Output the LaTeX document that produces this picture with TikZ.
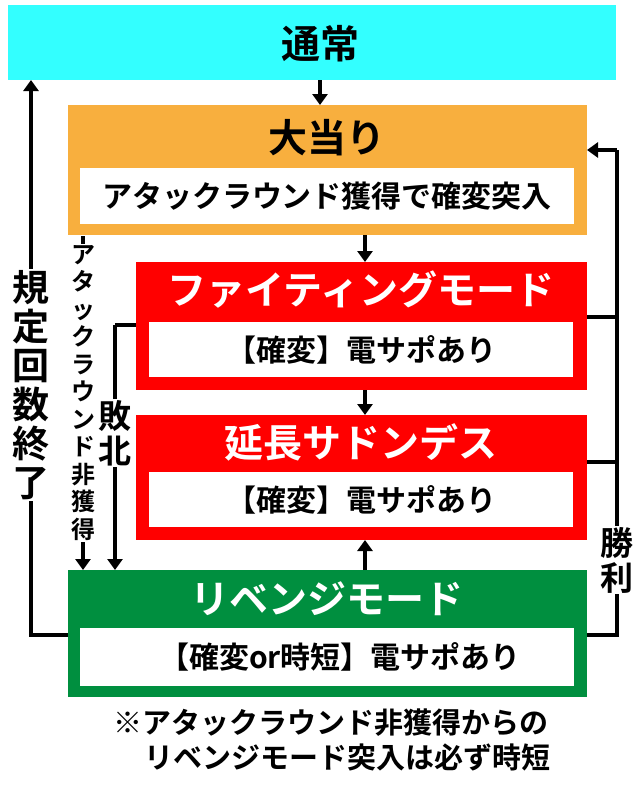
\documentclass[tikz,border=0pt]{standalone}
\usepackage{fontspec}
\setmainfont{Noto Sans CJK JP}[BoldFont={* Bold}]
\usetikzlibrary{arrows.meta}
\definecolor{cyanbg}{HTML}{33FFFF}
\definecolor{orangebg}{HTML}{F8AF3E}
\definecolor{redbg}{HTML}{FF0000}
\definecolor{greenbg}{HTML}{008F3F}
\begin{document}
\begin{tikzpicture}[x=1pt,y=-1pt,
  ttl/.style={font=\bfseries\fontsize{39}{42}\selectfont},
  txt/.style={font=\bfseries\fontsize{30}{34}\selectfont},
  conn/.style={line width=4pt,-{Triangle[length=11pt,width=15pt]}},
  line/.style={line width=4pt},
  vlab/.style={fill=white,inner sep=1pt,align=center}]
\useasboundingbox (0,0) rectangle (640,785);
% boxes
\fill[cyanbg] (8,5) rectangle (616,80);
\node[ttl] (tsu) at (320,44) {通常};
\coordinate (tsuB) at (320,80);
\fill[orangebg] (68,105) rectangle (587,235);
\node[ttl] (oa) at (327,138) {大当り};
\fill[white] (80,168) rectangle (574,224);
\node[txt] (oat) at (327,196) {アタックラウンド獲得で確変突入};
\fill[redbg] (136,262) rectangle (587,390);
\node[ttl,text=white] (fi) at (361,290) {ファイティングモード};
\fill[white] (149,322) rectangle (573,377);
\node[txt] (fit) at (361,350) {【確変】電サポあり};
\fill[redbg] (136,415) rectangle (587,540);
\node[ttl,text=white] (en) at (361,442) {延長サドンデス};
\fill[white] (149,472) rectangle (573,527);
\node[txt] (ent) at (361,500) {【確変】電サポあり};
\fill[greenbg] (68,570) rectangle (587,697);
\node[ttl,text=white] (re) at (327,599) {リベンジモード};
\fill[white] (80,628) rectangle (574,686);
\node[txt] (ret) at (340,657) {【確変or時短】電サポあり};
% coordinates
\coordinate (oaT) at (320,105);
\coordinate (oaB) at (365,235);
\coordinate (fiT) at (365,262);
\coordinate (fiB) at (365,390);
\coordinate (enT) at (365,415);
\coordinate (enB) at (365,540);
\coordinate (reT) at (365,570);
% center arrows
\draw[conn] (tsuB) -- (oaT);
\draw[conn] (oaB) -- (fiT);
\draw[conn] (fiB) -- (enT);
\draw[conn] (reT) -- (enB);
% left: 規定回数終了
\coordinate (reL) at (68,635);
\coordinate (lupB) at (31,635);
\coordinate (lupT) at (31,80);
\draw[line] (reL) -- (lupB) -- (31,100);
\draw[conn] (31,100) -- (lupT);
\node[vlab,font=\bfseries\fontsize{37}{39}\selectfont] (kitei) at (31,385) {規\\定\\回\\数\\終\\了};
% アタックラウンド非獲得
\coordinate (aT) at (83,236);
\coordinate (aB) at (83,570);
\draw[conn] (aT) -- (aB);
\node[vlab,font=\bfseries\fontsize{24}{27.5}\selectfont] (atk) at (83,393) {ア\\タ\\ッ\\ク\\ラ\\ウ\\ン\\ド\\非\\獲\\得};
% 敗北
\coordinate (fiL) at (136,325);
\coordinate (hk) at (115,325);
\coordinate (hkB) at (115,570);
\draw[line] (fiL) -- (hk);
\draw[conn] (hk) -- (hkB);
\node[vlab,font=\bfseries\fontsize{33}{35}\selectfont] (haiboku) at (115,433) {敗\\北};
% right: 勝利
\coordinate (fiR) at (587,317);
\coordinate (enR) at (587,462);
\coordinate (reR) at (587,635);
\coordinate (rB) at (617,635);
\coordinate (rT) at (617,150);
\coordinate (oaR) at (587,150);
\draw[line] (fiR) -- (617,317);
\draw[line] (enR) -- (617,462);
\draw[line] (reR) -- (rB) -- (rT);
\draw[conn] (rT) -- (oaR);
\node[vlab,font=\bfseries\fontsize{33}{35}\selectfont] (shori) at (617,560) {勝\\利};
% note
\node[font=\bfseries\fontsize{29}{35}\selectfont,align=left] (note) at (332,740) {※アタックラウンド非獲得からの\\\hspace{1.1em}リベンジモード突入は必ず時短};
\end{tikzpicture}
\end{document}
